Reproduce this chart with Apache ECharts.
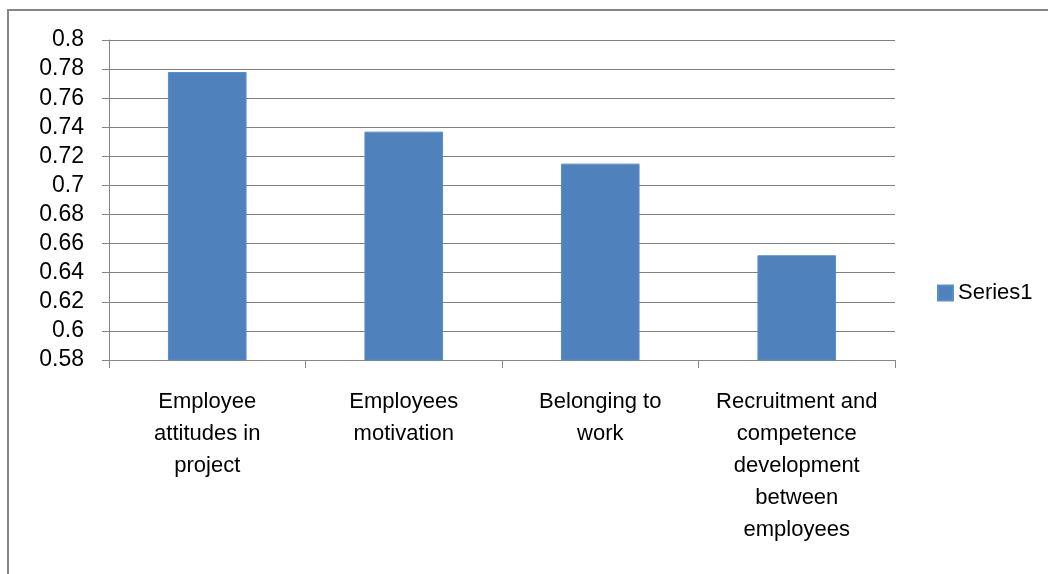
<!DOCTYPE html>
<html>
<head>
<meta charset="utf-8">
<title>Series1</title>
<script src="https://cdn.jsdelivr.net/npm/echarts@6/dist/echarts.min.js"></script>
<style>
  html, body { margin: 0; padding: 0; background: #fff; }
  #chart { width: 1048px; height: 574px; }
</style>
</head>
<body>
<div id="chart"></div>
<script>
// Category labels (line breaks as shown under each bar)
const categories = [
  'Employee\nattitudes in\nproject',
  'Employees\nmotivation',
  'Belonging to\nwork',
  'Recruitment and\ncompetence\ndevelopment\nbetween\nemployees'
];

// Series values
const series1 = [0.778, 0.737, 0.715, 0.652];

// Value axis range
const yMin = 0.58;
const yMax = 0.80;
const yStep = 0.02;

const FONT = '"Liberation Sans", "DejaVu Sans", sans-serif';
const GRAY = '#868686';

const chart = echarts.init(document.getElementById('chart'), null, { renderer: 'canvas' });

chart.setOption({
  animation: false,
  backgroundColor: '#ffffff',
  textStyle: { fontFamily: FONT },
  graphic: [{
    type: 'rect',
    silent: true,
    shape: { x: 8, y: 10, width: 1200, height: 700 },
    style: { fill: 'none', stroke: GRAY, lineWidth: 2 }
  }],
  legend: {
    show: true,
    left: 932,
    top: 277,
    orient: 'vertical',
    itemWidth: 15,
    itemHeight: 15,
    itemGap: 6,
    icon: 'rect',
    textStyle: { fontFamily: FONT, fontSize: 22, color: '#000' },
    data: ['Series1']
  },
  grid: { left: 109, right: 153, top: 40, bottom: 214, containLabel: false },
  xAxis: {
    type: 'category',
    data: categories,
    axisLine: { show: true, lineStyle: { color: GRAY, width: 1 } },
    axisTick: { show: true, length: 8, lineStyle: { color: GRAY } },
    axisLabel: {
      interval: 0,
      margin: 26,
      fontFamily: FONT,
      fontSize: 22,
      lineHeight: 32,
      color: '#000',
      align: 'center'
    }
  },
  yAxis: {
    type: 'value',
    min: yMin,
    max: yMax,
    interval: yStep,
    axisLine: { show: true, lineStyle: { color: GRAY, width: 1 } },
    axisTick: { show: true, length: 7, lineStyle: { color: GRAY } },
    splitLine: { show: true, lineStyle: { color: '#808080', width: 1 } },
    axisLabel: {
      margin: 25,
      fontFamily: FONT,
      fontSize: 23,
      color: '#000',
      formatter: v => String(parseFloat(v.toFixed(2)))
    }
  },
  series: [{
    name: 'Series1',
    type: 'bar',
    data: series1,
    barCategoryGap: '60%',
    itemStyle: { color: '#4F81BD', borderColor: '#5b8cc6', borderWidth: 1 }
  }]
});
</script>
</body>
</html>
